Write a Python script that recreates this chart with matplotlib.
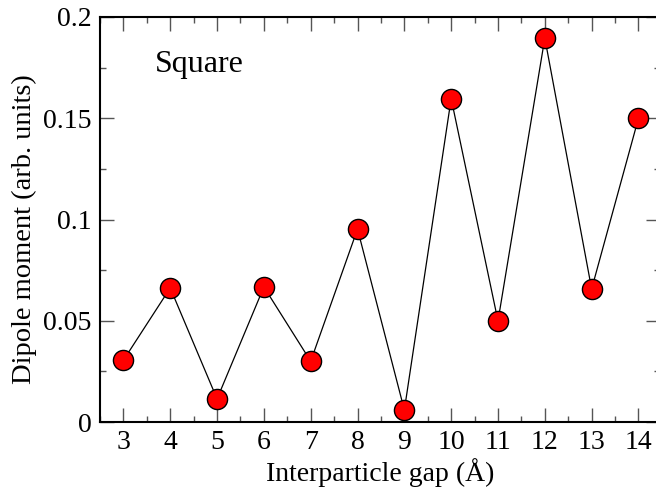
import matplotlib
matplotlib.use('Agg')
import matplotlib.pyplot as plt
from matplotlib.ticker import MultipleLocator

plt.rcParams['font.family'] = ['Liberation Serif', 'DejaVu Serif']
plt.rcParams['mathtext.fontset'] = 'stix'

# 데이터
gap = [3, 4, 5, 6, 7, 8, 9, 10, 11, 12, 13, 14]
dipole = [0.0305, 0.0662, 0.0114, 0.0667, 0.0300, 0.0953, 0.0059,
          0.1597, 0.0499, 0.1896, 0.0657, 0.1500]

fig = plt.figure(figsize=(6.56, 4.93), dpi=100)
# 오른쪽 축은 그림 밖으로 약간 잘림 (원본과 동일)
ax = fig.add_axes([100/656, 71/493, 560/656, 405/493])

ax.plot(gap, dipole, color='black', linewidth=0.9, marker='o',
        markersize=14.5, markerfacecolor='red', markeredgecolor='black',
        markeredgewidth=1.0, zorder=3, clip_on=False)

ax.set_xlim(2.5, 14.46)
ax.set_ylim(0, 0.2)
ax.xaxis.set_major_locator(MultipleLocator(1))
ax.xaxis.set_minor_locator(MultipleLocator(0.5))
ax.set_yticks([0, 0.05, 0.1, 0.15, 0.2])
ax.set_yticklabels(['0', '0.05', '0.1', '0.15', '0.2'])
ax.yaxis.set_minor_locator(MultipleLocator(0.025))

ax.tick_params(which='both', direction='in', top=True, right=True,
               labelsize=20, pad=6)
ax.tick_params(which='major', length=10, width=1, color='#555555')
ax.tick_params(which='minor', length=4, width=1, color='#555555')
for s in ax.spines.values():
    s.set_linewidth(1.5)

ax.set_xlabel('Interparticle gap (Å)', fontsize=20, labelpad=2)
ax.set_ylabel('Dipole moment (arb. units)', fontsize=20.5)
ax.yaxis.set_label_coords(-0.112, 0.476)
ax.text(3.67, 0.173, 'Square', fontsize=23, va='baseline', ha='left')

fig.savefig('out.png', dpi=100)
